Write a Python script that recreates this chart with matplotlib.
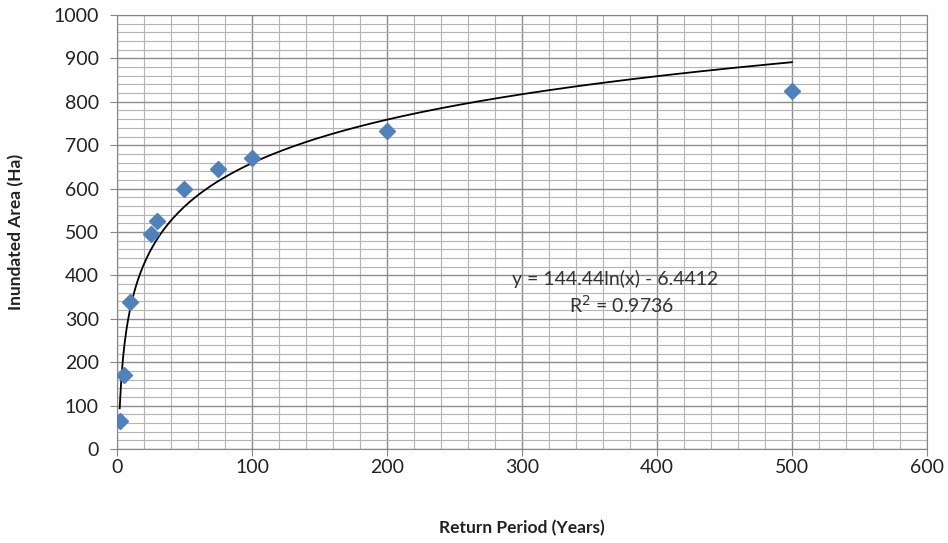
import numpy as np
import matplotlib
matplotlib.use("Agg")
import matplotlib.pyplot as plt
from matplotlib.ticker import MultipleLocator

# return period (years) and inundated area (ha)
return_period = [2, 5, 10, 25, 30, 50, 75, 100, 200, 500]
inundated_area = [65, 170, 338, 495, 525, 599, 645, 670, 733, 825]
# log trendline from the chart label
slope = 144.44
intercept = -6.4412
r_squared = 0.9736

plt.rcParams['font.family'] = ['Lato', 'DejaVu Sans']

fig = plt.figure(figsize=(9.48, 5.43), dpi=100)
ax = fig.add_axes([0.1234, 0.1731, 0.8544, 0.7993])

xs = np.linspace(min(return_period), max(return_period), 400)
ax.plot(xs, slope * np.log(xs) + intercept, color='black', lw=1.3, zorder=3)
ax.plot(return_period, inundated_area, linestyle='none', marker='D', ms=8.5,
        color='#4F81BD', mec='#4F81BD', zorder=4)

ax.set_xlim(0, 600)
ax.set_ylim(0, 1000)
ax.xaxis.set_major_locator(MultipleLocator(100))
ax.xaxis.set_minor_locator(MultipleLocator(20))
ax.yaxis.set_major_locator(MultipleLocator(100))
ax.yaxis.set_minor_locator(MultipleLocator(20))
ax.grid(which='major', color='#8c8c8c', lw=1.0)
ax.grid(which='minor', color='#b4b4b4', lw=0.8)
ax.set_axisbelow(True)
for s in ax.spines.values():
    s.set_color('#868686')
ax.tick_params(which='major', direction='out', length=5, color='#868686',
               labelsize=14, pad=8, labelcolor='#222222')
ax.tick_params(which='minor', length=0)
ax.tick_params(axis='x', pad=2)

ax.set_xlabel('Return Period (Years)', fontsize=12.5, fontweight='bold',
              labelpad=32, color='#222222')
ax.set_ylabel('Inundated Area (Ha)', fontsize=12.5, fontweight='bold',
              labelpad=21, color='#222222')

ax.text(369, 392, 'y = %.2fln(x) - %.4f' % (slope, -intercept), ha='center',
        va='center', fontsize=14, color='#333333')
ax.text(374, 332, 'R$^2$ = %.4f' % r_squared, ha='center', va='center',
        fontsize=14, color='#333333')

fig.savefig('out.png', dpi=100)
